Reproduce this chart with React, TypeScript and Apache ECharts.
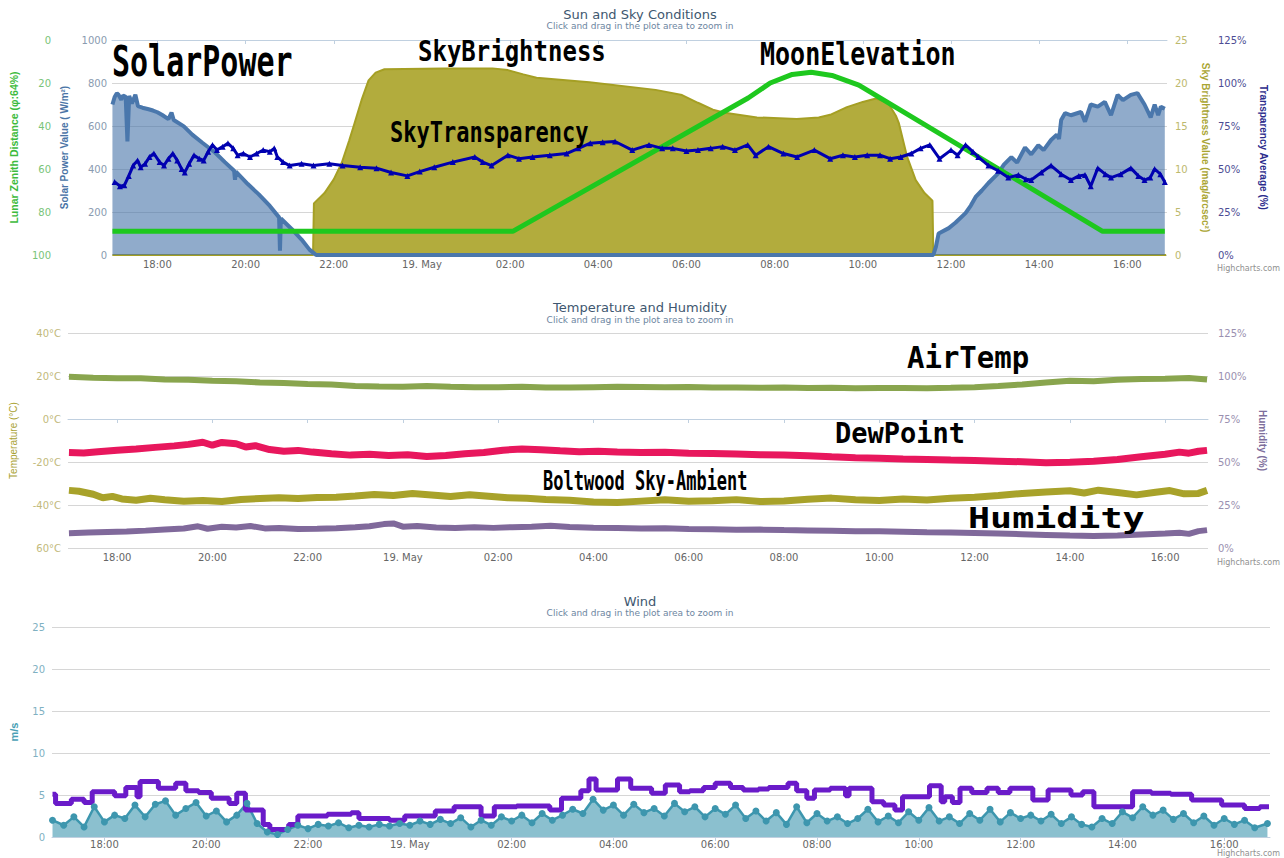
import React, { useEffect, useRef } from "react";
import * as echarts from "echarts";

// ---------- shared time axis (hours since 18 May 00:00) ----------
const hourTicks = [18, 20, 22, 24, 26, 28, 30, 32, 34, 36, 38, 40];
const X_MIN = 16.97;
const X_MAX = 40.9;

// ---------- Sun and Sky Conditions ----------
const solarPower: [number, number][] = [
  [16.98, 700], [17.03, 735], [17.08, 752], [17.12, 745], [17.18, 722], [17.22, 742], [17.28, 736],
  [17.32, 528], [17.36, 740], [17.42, 705], [17.5, 745], [17.56, 692], [17.66, 685], [17.8, 678],
  [17.9, 672], [18.0, 664], [18.11, 651], [18.25, 632], [18.32, 662], [18.37, 628], [18.6, 598],
  [18.79, 560], [19.02, 522], [19.3, 478], [19.53, 432], [19.74, 392], [19.76, 350], [19.78, 388],
  [20.05, 330], [20.3, 282], [20.55, 228], [20.76, 175], [20.78, 20], [20.8, 170], [21.05, 120],
  [21.27, 72], [21.45, 25], [21.6, 0], [35.6, 0], [35.66, 40], [35.72, 100], [35.95, 125],
  [36.1, 150], [36.33, 195], [36.45, 230], [36.56, 270], [36.7, 300], [36.85, 335], [37.07, 380],
  [37.2, 420], [37.37, 455], [37.5, 430], [37.68, 500], [37.82, 468], [37.98, 510], [38.1, 488],
  [38.27, 535], [38.4, 560], [38.45, 540], [38.5, 628], [38.59, 660], [38.72, 650], [38.95, 665],
  [39.04, 620], [39.17, 700], [39.33, 690], [39.49, 712], [39.63, 650], [39.78, 745], [39.9, 720],
  [40.08, 745], [40.23, 753], [40.39, 700], [40.53, 640], [40.62, 700], [40.7, 650], [40.76, 690],
  [40.85, 680],
];

const skyBrightness: [number, number][] = [
  [16.98, 0], [21.53, 0], [21.55, 6.0], [21.79, 7.2], [22.0, 8.8], [22.18, 10.7], [22.35, 13.3],
  [22.47, 15.3], [22.63, 18.0], [22.79, 20.3], [22.95, 21.2], [23.15, 21.6], [24.5, 21.7],
  [25.6, 21.7], [25.95, 21.5], [26.3, 21.0], [26.6, 20.6], [27.8, 20.1], [29.3, 19.2], [29.9, 18.6],
  [30.26, 17.7], [30.6, 16.9], [30.91, 16.5], [31.6, 16.0], [32.5, 15.8], [33.0, 16.0], [33.26, 16.3],
  [33.64, 17.2], [34.0, 17.8], [34.3, 18.2], [34.57, 17.7], [34.75, 16.2], [34.82, 15.3], [35.0, 11.5],
  [35.2, 8.7], [35.4, 7.2], [35.58, 6.3], [35.6, 0], [40.88, 0],
];

const lunarZenithDistance: [number, number][] = [
  [16.98, 89], [26.06, 89], [31.4, 27], [31.9, 20], [32.4, 16], [32.83, 15], [33.3, 16.5],
  [33.91, 21], [39.44, 89], [40.85, 89],
];

const skyTransparency: [number, number][] = [
  [17.03, 42.5], [17.15, 40], [17.25, 40.5], [17.35, 46], [17.45, 52], [17.55, 55], [17.62, 51],
  [17.72, 53], [17.82, 57], [17.92, 59], [18.05, 54], [18.15, 52], [18.25, 56], [18.35, 59],
  [18.45, 55], [18.55, 50], [18.62, 48], [18.72, 53], [18.83, 58], [18.95, 56], [19.05, 55],
  [19.15, 60], [19.25, 64], [19.35, 61], [19.48, 63], [19.6, 65], [19.72, 62], [19.82, 58],
  [19.95, 59], [20.1, 57], [20.25, 59], [20.4, 61], [20.55, 60], [20.65, 62], [20.72, 57],
  [20.85, 54], [21.0, 52], [21.27, 53], [21.54, 52], [21.9, 53], [22.2, 52], [22.6, 51],
  [22.97, 50.5], [23.3, 48], [23.67, 46], [23.95, 48.5], [24.28, 51], [24.7, 54], [25.2, 57],
  [25.38, 54], [25.58, 52], [25.95, 58], [26.2, 56], [26.51, 57], [26.9, 58], [27.28, 59],
  [27.55, 62], [27.82, 65], [28.1, 65.5], [28.38, 66], [28.77, 61], [29.15, 64], [29.45, 62],
  [29.69, 62], [30.0, 60.5], [30.26, 61], [30.55, 62], [30.82, 63], [31.1, 61], [31.39, 64],
  [31.57, 58], [31.86, 63], [32.2, 59], [32.51, 57], [32.9, 61], [33.26, 56], [33.55, 58],
  [33.82, 57], [34.1, 58], [34.39, 58], [34.62, 56], [34.86, 57], [35.1, 59], [35.31, 62],
  [35.52, 64], [35.74, 56], [36.0, 61], [36.15, 58], [36.33, 64], [36.5, 60], [36.62, 57],
  [36.85, 52], [37.07, 49], [37.3, 45], [37.53, 46.5], [37.7, 44], [37.82, 43.6], [38.05, 48],
  [38.27, 52], [38.5, 47], [38.72, 43.6], [38.9, 46], [39.04, 46.5], [39.17, 40], [39.33, 50.5],
  [39.5, 47], [39.63, 45], [39.85, 47], [40.08, 50.5], [40.25, 46], [40.39, 43.6], [40.52, 45],
  [40.62, 50], [40.75, 47], [40.85, 42.5],
];

// ---------- Temperature and Humidity ----------
const airTemp: [number, number][] = [
  [16.99, 19.6], [17.5, 19.2], [18, 18.9], [18.5, 19.0], [19, 18.4], [19.5, 18.2], [20, 17.8],
  [20.5, 17.6], [21, 17.0], [21.5, 16.7], [22, 16.3], [22.5, 16.0], [23, 15.4], [23.5, 15.1],
  [24, 15.0], [24.5, 15.3], [25, 15.0], [25.5, 14.8], [26, 14.8], [26.5, 15.0], [27, 14.7],
  [27.5, 14.6], [28, 14.8], [28.5, 15.0], [29, 14.9], [29.5, 14.8], [30, 14.9], [30.5, 14.7],
  [31, 14.6], [31.5, 14.5], [32, 14.6], [32.5, 14.4], [33, 14.5], [33.5, 14.3], [34, 14.4],
  [34.5, 14.4], [35, 14.3], [35.5, 14.5], [36, 14.8], [36.5, 15.3], [37, 16.1], [37.5, 17.0],
  [38, 17.8], [38.5, 17.6], [39, 18.2], [39.5, 18.6], [40, 18.7], [40.5, 19.1], [40.88, 18.4],
];

const dewPoint: [number, number][] = [
  [16.99, -15.6], [17.3, -15.8], [17.6, -15.2], [18.0, -14.5], [18.4, -14.0], [18.8, -13.2],
  [19.2, -12.5], [19.5, -11.8], [19.8, -10.8], [20.0, -12.2], [20.2, -10.9], [20.5, -11.5],
  [20.7, -13.0], [20.9, -12.4], [21.2, -14.2], [21.5, -15.0], [21.8, -14.6], [22.1, -15.4],
  [22.5, -16.2], [22.9, -16.8], [23.3, -16.4], [23.7, -17.0], [24.1, -16.6], [24.5, -17.4],
  [24.9, -17.0], [25.3, -16.2], [25.7, -15.6], [26.1, -14.5], [26.5, -13.9], [26.9, -14.3],
  [27.3, -14.8], [27.7, -15.2], [28.1, -15.0], [28.5, -15.4], [29, -15.6], [29.5, -15.5],
  [30, -15.9], [30.5, -16.0], [31, -16.3], [31.5, -16.6], [32, -16.8], [32.5, -17.1], [33, -17.6],
  [33.5, -18.0], [34, -18.3], [34.5, -18.6], [35, -18.8], [35.5, -19.1], [36, -19.3], [36.5, -19.6],
  [37, -19.9], [37.5, -20.3], [38, -20.1], [38.5, -19.7], [39, -18.8], [39.5, -17.6], [40.0, -16.4],
  [40.3, -15.4], [40.5, -15.9], [40.7, -15.0], [40.88, -14.6],
];

const boltwoodSkyAmbient: [number, number][] = [
  [16.99, -33.2], [17.2, -33.6], [17.5, -35.0], [17.7, -36.6], [17.9, -36.0], [18.1, -37.2],
  [18.4, -37.8], [18.7, -36.9], [19.0, -37.6], [19.4, -38.3], [19.8, -37.9], [20.2, -38.4],
  [20.6, -37.4], [21.0, -37.0], [21.4, -36.6], [21.8, -37.0], [22.2, -36.5], [22.6, -36.4],
  [23.0, -35.8], [23.4, -35.1], [23.8, -35.6], [24.2, -34.7], [24.6, -35.3], [25.0, -36.0],
  [25.4, -35.2], [25.8, -35.9], [26.2, -36.6], [26.6, -36.9], [27.0, -37.4], [27.5, -37.8],
  [28.0, -38.6], [28.5, -38.8], [29, -38.2], [29.5, -37.6], [30, -38.3], [30.5, -38.0], [31, -37.5],
  [31.5, -38.4], [32, -38.1], [32.5, -37.3], [33, -36.8], [33.5, -37.6], [34, -37.9], [34.5, -37.2],
  [35, -37.7], [35.5, -36.9], [36, -36.4], [36.5, -35.6], [37, -34.6], [37.5, -34.0], [38, -33.4],
  [38.3, -34.4], [38.6, -33.1], [39, -34.2], [39.4, -35.3], [39.8, -34.1], [40.1, -33.3],
  [40.4, -34.8], [40.7, -34.6], [40.88, -33.2],
];

const humidity: [number, number][] = [
  [16.99, 8.6], [17.4, 9.0], [17.8, 9.3], [18.2, 9.6], [18.6, 10.1], [19.0, 10.8], [19.4, 11.3],
  [19.7, 12.6], [19.9, 11.2], [20.2, 12.4], [20.5, 11.9], [20.8, 12.8], [21.1, 11.4], [21.4, 11.6],
  [21.8, 11.0], [22.2, 11.2], [22.6, 11.5], [23.0, 12.0], [23.3, 12.6], [23.6, 13.9], [23.8, 14.3],
  [24.0, 12.4], [24.3, 12.8], [24.7, 11.9], [25.1, 11.6], [25.5, 12.0], [25.9, 11.7], [26.3, 12.1],
  [26.7, 12.4], [27.1, 12.9], [27.5, 12.2], [28.0, 11.8], [28.5, 11.6], [29, 11.3], [29.5, 11.5],
  [30, 11.0], [30.5, 10.9], [31, 10.6], [31.5, 10.7], [32, 10.4], [32.5, 10.2], [33, 10.0],
  [33.5, 9.8], [34, 9.7], [34.5, 9.5], [35, 9.2], [35.5, 9.0], [36, 8.7], [36.5, 8.4], [37, 8.0],
  [37.5, 7.6], [38, 7.2], [38.5, 7.0], [39, 7.3], [39.5, 7.9], [40, 8.4], [40.3, 8.9], [40.5, 8.2],
  [40.7, 9.8], [40.88, 10.4],
];

// ---------- Wind ----------
const windSpeed: [number, number][] = [
  [16.98, 2.0], [17.2, 1.4], [17.4, 2.4], [17.6, 1.2], [17.8, 3.6], [18.0, 1.8], [18.2, 2.6], [18.4, 2.2],
  [18.6, 3.8], [18.8, 2.4], [19.0, 3.9], [19.2, 4.3], [19.4, 2.6], [19.6, 3.4], [19.8, 4.1], [20.0, 2.5],
  [20.2, 3.1], [20.4, 1.8], [20.6, 2.6], [20.8, 4.0], [21.0, 1.6], [21.2, 0.6], [21.4, 0.3], [21.6, 0.9],
  [21.8, 1.4], [22.0, 1.0], [22.2, 1.5], [22.4, 1.3], [22.6, 1.7], [22.8, 1.1], [23.0, 1.4], [23.2, 1.2],
  [23.4, 1.5], [23.6, 1.3], [23.8, 1.6], [24.0, 1.4], [24.2, 1.9], [24.4, 1.5], [24.6, 2.1], [24.8, 1.6],
  [25.0, 2.3], [25.2, 1.2], [25.4, 2.0], [25.6, 1.4], [25.8, 2.4], [26.0, 1.9], [26.2, 2.6], [26.4, 1.7],
  [26.6, 2.8], [26.8, 2.0], [27.0, 2.6], [27.2, 3.3], [27.4, 2.8], [27.6, 4.5], [27.8, 3.2], [28.0, 3.8],
  [28.2, 2.6], [28.4, 3.9], [28.6, 2.9], [28.8, 3.4], [29.0, 2.5], [29.2, 4.0], [29.4, 3.0], [29.6, 3.6],
  [29.8, 2.4], [30.0, 3.4], [30.2, 2.7], [30.4, 3.8], [30.6, 2.2], [30.8, 3.1], [31.0, 1.9], [31.2, 2.9],
  [31.4, 1.5], [31.6, 3.6], [31.8, 1.7], [32.0, 2.8], [32.2, 1.9], [32.4, 2.4], [32.6, 1.6], [32.8, 2.2],
  [33.0, 3.3], [33.2, 1.8], [33.4, 2.5], [33.6, 1.7], [33.8, 3.0], [34.0, 2.0], [34.2, 3.5], [34.4, 1.9],
  [34.6, 2.4], [34.8, 1.6], [35.0, 2.8], [35.2, 2.0], [35.4, 3.3], [35.6, 1.8], [35.8, 2.9], [36.0, 2.2],
  [36.2, 2.6], [36.4, 1.9], [36.6, 2.7], [36.8, 1.6], [37.0, 2.4], [37.2, 1.5], [37.4, 1.2], [37.6, 2.2],
  [37.8, 1.6], [38.0, 3.0], [38.2, 2.3], [38.4, 3.6], [38.6, 2.6], [38.8, 3.2], [39.0, 2.1], [39.2, 2.8],
  [39.4, 1.7], [39.6, 2.5], [39.8, 1.4], [40.0, 2.2], [40.2, 1.5], [40.4, 2.0], [40.6, 1.1], [40.85, 1.6],
];

const windGust: [number, number][] = [
  [16.98, 5.1], [17.04, 4.0], [17.35, 4.5], [17.6, 4.1], [17.76, 5.4], [18.2, 4.9], [18.42, 5.9],
  [18.64, 4.8], [18.7, 6.6], [19.06, 5.8], [19.4, 6.4], [19.6, 5.5], [19.85, 5.3], [20.1, 4.6],
  [20.45, 4.0], [20.6, 5.2], [20.77, 3.2], [21.12, 1.5], [21.25, 0.9], [21.62, 1.5], [21.8, 2.5],
  [22.38, 2.7], [22.85, 2.9], [23.0, 2.2], [23.6, 2.0], [23.9, 2.5], [24.5, 3.1], [24.87, 3.6],
  [25.4, 2.5], [25.66, 3.6], [26.1, 3.7], [26.75, 3.2], [26.98, 4.6], [27.36, 5.5], [27.52, 6.9],
  [27.66, 5.6], [28.08, 6.9], [28.34, 5.8], [28.75, 5.2], [29.02, 6.2], [29.3, 5.4], [29.5, 5.5],
  [29.77, 5.9], [30.0, 6.4], [30.3, 5.9], [30.55, 5.6], [30.85, 5.7], [31.05, 5.9], [31.43, 6.4],
  [31.6, 5.5], [31.8, 4.6], [31.95, 5.6], [32.26, 5.8], [32.56, 4.9], [32.63, 5.8], [33.08, 4.2],
  [33.31, 3.8], [33.53, 3.2], [33.68, 4.8], [34.21, 6.1], [34.44, 4.2], [34.51, 4.8], [34.66, 4.1],
  [34.81, 5.8], [35.04, 5.3], [35.34, 5.8], [35.56, 5.3], [35.79, 5.8], [36.24, 4.4], [36.54, 5.6],
  [36.99, 5.0], [37.22, 5.4], [37.44, 3.6], [38.2, 5.4], [38.57, 5.2], [38.95, 5.1], [39.36, 4.4],
  [39.95, 3.8], [40.4, 3.4], [40.7, 3.6], [40.88, 3.6],
];

const panelTitles = ["Sun and Sky Conditions", "Temperature and Humidity", "Wind"];
const subtitleText = "Click and drag in the plot area to zoom in";
const creditText = "Highcharts.com";
const tempTicksLabel = (v: number) => (v === -60 ? "60°C" : v + "°C");

const FONT = "DejaVu Sans";
const TITLE_FONT = "Liberation Sans";
const MONO = "DejaVu Sans Mono";

function timeLabel(v: number) {
  if (v === 24) return "19. May";
  const h = v % 24;
  return (h < 10 ? "0" : "") + h + ":00";
}

function xAxisFor(gridIndex: number, margin: number) {
  return {
    type: "value",
    gridIndex,
    min: X_MIN,
    max: X_MAX,
    splitLine: { show: false },
    axisLine: { show: true, lineStyle: { color: "#C0D0E0" } },
    axisTick: { show: true, customValues: hourTicks, length: 4, lineStyle: { color: "#C0D0E0" } },
    axisLabel: {
      customValues: hourTicks,
      formatter: timeLabel,
      color: "#666666",
      fontSize: 10,
      fontFamily: FONT,
      margin,
    },
  };
}

const gridLine = { show: true, lineStyle: { color: "#d6d6d6", width: 1 } };
const plain = (v: number) => String(v);

function buildOption() {
  const annotation = (text: string, x: number, y: number, size: number, sx: number, sy: number) => ({
    type: "text",
    x,
    y,
    scaleX: sx,
    scaleY: sy,
    z: 100,
    style: {
      text,
      fill: "#000000",
      fontSize: size,
      fontFamily: MONO,
      fontWeight: "bold",
      textAlign: "left",
      textVerticalAlign: "middle",
    },
  });
  const centered = (text: string, y: number, size: number, color: string) => ({
    type: "text",
    x: 640,
    y,
    style: { text, fill: color, fontSize: size, fontFamily: FONT, textAlign: "center", textVerticalAlign: "middle" },
  });
  const credit = (y: number) => ({
    type: "text",
    x: 1280,
    y,
    style: { text: creditText, fill: "#909090", fontSize: 8, fontFamily: FONT, textAlign: "right", textVerticalAlign: "middle" },
  });

  return {
    animation: false,
    backgroundColor: "#ffffff",
    grid: [
      { left: 110, right: 117, top: 40, height: 215 },
      { left: 67, right: 76, top: 333, height: 215 },
      { left: 50, right: 14, top: 627, height: 210 },
    ],
    xAxis: [xAxisFor(0, 4), xAxisFor(1, 4), xAxisFor(2, 2)],
    yAxis: [
      {
        type: "value", gridIndex: 0, position: "left", offset: 59, min: 0, max: 100, interval: 20, inverse: true,
        splitLine: { show: false }, axisLine: { show: false }, axisTick: { show: false },
        axisLabel: { color: "#79c479", fontSize: 10, fontFamily: FONT, margin: 2, formatter: plain },
        name: "Lunar Zenith Distance (φ:64%)", nameLocation: "middle", nameGap: 34, nameRotate: 90,
        nameTextStyle: { color: "#3dbb3d", fontWeight: "bold", fontSize: 10.5, fontFamily: TITLE_FONT },
      },
      {
        type: "value", gridIndex: 0, position: "left", offset: 0, min: 0, max: 1000, interval: 200,
        splitLine: gridLine, axisLine: { show: false }, axisTick: { show: false },
        axisLabel: { color: "#8a9bb0", fontSize: 10, fontFamily: FONT, margin: 5, formatter: plain },
        name: "Solar Power Value ( W/m²)", nameLocation: "middle", nameGap: 43, nameRotate: 90,
        nameTextStyle: { color: "#4a74a6", fontWeight: "bold", fontSize: 10, fontFamily: TITLE_FONT },
      },
      {
        type: "value", gridIndex: 0, position: "right", offset: 0, min: 0, max: 25, interval: 5,
        splitLine: { show: false }, axisLine: { show: false }, axisTick: { show: false },
        axisLabel: { color: "#bdb96e", fontSize: 10, fontFamily: FONT, margin: 8, formatter: plain },
        name: "Sky Brightness Value (mag/arcsec²)", nameLocation: "middle", nameGap: 33, nameRotate: -90,
        nameTextStyle: { color: "#aaa533", fontWeight: "bold", fontSize: 10, fontFamily: TITLE_FONT },
      },
      {
        type: "value", gridIndex: 0, position: "right", offset: 45, min: 0, max: 125, interval: 25,
        splitLine: { show: false }, axisLine: { show: false }, axisTick: { show: false },
        axisLabel: { color: "#4c4c94", fontSize: 10, fontFamily: FONT, margin: 6, formatter: "{value}%" },
        name: "Transparency Average (%)", nameLocation: "middle", nameGap: 46, nameRotate: -90,
        nameTextStyle: { color: "#2b2b8c", fontWeight: "bold", fontSize: 10, fontFamily: TITLE_FONT },
      },
      {
        type: "value", gridIndex: 1, position: "left", min: -60, max: 40, interval: 20,
        splitLine: gridLine, axisLine: { show: false }, axisTick: { show: false },
        axisLabel: { color: "#c2ba7c", fontSize: 10, fontFamily: FONT, margin: 7, formatter: tempTicksLabel },
        name: "Temperature (°C)", nameLocation: "middle", nameGap: 50, nameRotate: 90,
        nameTextStyle: { color: "#a9a233", fontSize: 10, fontFamily: TITLE_FONT },
      },
      {
        type: "value", gridIndex: 1, position: "right", min: 0, max: 125, interval: 25,
        splitLine: { show: false }, axisLine: { show: false }, axisTick: { show: false },
        axisLabel: { color: "#9a90b0", fontSize: 10, fontFamily: FONT, margin: 10, formatter: "{value}%" },
        name: "Humidity (%)", nameLocation: "middle", nameGap: 49, nameRotate: -90,
        nameTextStyle: { color: "#7d6e9c", fontWeight: "bold", fontSize: 10, fontFamily: TITLE_FONT },
      },
      {
        type: "value", gridIndex: 2, position: "left", min: 0, max: 25, interval: 5,
        splitLine: gridLine, axisLine: { show: false }, axisTick: { show: false },
        axisLabel: { color: "#7fb1c2", fontSize: 10, fontFamily: FONT, margin: 7, formatter: plain },
        name: "m/s", nameLocation: "middle", nameGap: 33, nameRotate: 90,
        nameTextStyle: { color: "#4a9fb5", fontWeight: "bold", fontSize: 11, fontFamily: TITLE_FONT },
      },
    ],
    series: [
      {
        name: "Sky Brightness", type: "line", xAxisIndex: 0, yAxisIndex: 2, data: skyBrightness,
        symbol: "none", lineStyle: { color: "#a59f24", width: 2 }, itemStyle: { color: "#a59f24" },
        areaStyle: { color: "#b2ac3d", opacity: 1 }, z: 2,
      },
      {
        name: "Solar Power", type: "line", xAxisIndex: 0, yAxisIndex: 1, data: solarPower,
        symbol: "none", lineStyle: { color: "#4a77ac", width: 4 }, itemStyle: { color: "#4a77ac" },
        areaStyle: { color: "rgba(69,114,167,0.85)" }, z: 3,
      },
      {
        name: "Moon Elevation", type: "line", xAxisIndex: 0, yAxisIndex: 0, data: lunarZenithDistance,
        symbol: "none", lineStyle: { color: "#1ec81e", width: 5 }, itemStyle: { color: "#1ec81e" }, z: 4,
      },
      {
        name: "Sky Transparency", type: "line", xAxisIndex: 0, yAxisIndex: 3, data: skyTransparency,
        symbol: "triangle", symbolSize: 6, showAllSymbol: true,
        lineStyle: { color: "#0000b0", width: 3 }, itemStyle: { color: "#0000b0" }, z: 5,
      },
      {
        name: "Air Temp", type: "line", xAxisIndex: 1, yAxisIndex: 4, data: airTemp,
        symbol: "none", lineStyle: { color: "#89a54e", width: 6 }, itemStyle: { color: "#89a54e" },
      },
      {
        name: "Dew Point", type: "line", xAxisIndex: 1, yAxisIndex: 4, data: dewPoint,
        symbol: "none", lineStyle: { color: "#e8175d", width: 7 }, itemStyle: { color: "#e8175d" },
      },
      {
        name: "Boltwood Sky-Ambient", type: "line", xAxisIndex: 1, yAxisIndex: 4, data: boltwoodSkyAmbient,
        symbol: "none", lineStyle: { color: "#a8a22a", width: 7 }, itemStyle: { color: "#a8a22a" },
      },
      {
        name: "Humidity", type: "line", xAxisIndex: 1, yAxisIndex: 5, data: humidity,
        symbol: "none", lineStyle: { color: "#80699b", width: 6 }, itemStyle: { color: "#80699b" },
      },
      {
        name: "Wind Speed", type: "line", xAxisIndex: 2, yAxisIndex: 6, data: windSpeed,
        symbol: "circle", symbolSize: 7, showAllSymbol: true,
        lineStyle: { color: "#3d96ae", width: 2.5 }, itemStyle: { color: "#3d96ae" },
        areaStyle: { color: "rgba(61,150,174,0.85)" },
      },
      {
        name: "Wind Gust", type: "line", xAxisIndex: 2, yAxisIndex: 6, data: windGust, step: "end",
        symbol: "none", lineStyle: { color: "#6a1bc9", width: 5 }, itemStyle: { color: "#6a1bc9" },
      },
    ],
    graphic: [
      centered(panelTitles[0], 14, 13, "#3E576F"),
      centered(subtitleText, 26, 9, "#6D869F"),
      centered(panelTitles[1], 307, 13, "#3E576F"),
      centered(subtitleText, 320, 9, "#6D869F"),
      centered(panelTitles[2], 601, 13, "#3E576F"),
      centered(subtitleText, 613, 9, "#6D869F"),
      credit(268),
      credit(562),
      credit(853),
      annotation("SolarPower", 112, 62, 30, 1, 1.4),
      annotation("SkyBrightness", 418, 51, 24, 1, 1.2),
      annotation("MoonElevation", 760, 54, 25, 1, 1.3),
      annotation("SkyTransparency", 390, 132, 22, 1, 1.3),
      annotation("AirTemp", 907, 357, 29, 1, 1.05),
      annotation("DewPoint", 835, 433, 27, 1, 1.05),
      annotation("Boltwood Sky-Ambient", 543, 480, 17, 1, 1.55),
      annotation("Humidity", 968, 519, 28, 1.31, 1.0),
    ],
  };
}

export default function App() {
  const ref = useRef<HTMLDivElement>(null);
  useEffect(() => {
    document.body.style.margin = "0";
    const chart = echarts.init(ref.current as HTMLDivElement, null, { renderer: "svg" });
    chart.setOption(buildOption() as any);
    return () => chart.dispose();
  }, []);
  return <div ref={ref} style={{ width: 1284, height: 858 }} />;
}
